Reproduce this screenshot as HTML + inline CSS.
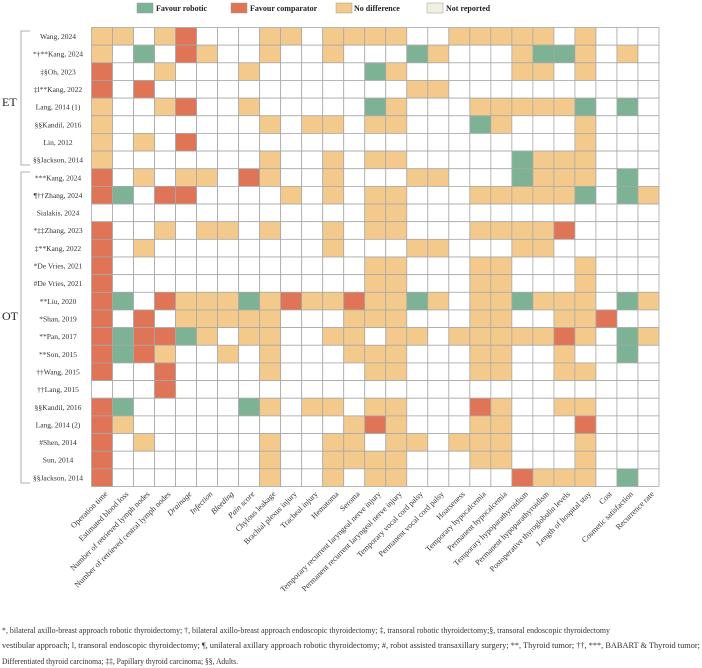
<!DOCTYPE html>
<html><head><meta charset="utf-8"><style>
html,body{margin:0;padding:0;background:#fff;width:702px;height:668px;overflow:hidden}
svg{display:block;font-family:"Liberation Serif",serif}
</style></head><body>
<svg id="chart" width="702" height="668" viewBox="0 0 702 668">
<g font-size="8" font-weight="bold" fill="#222">
<rect x="137" y="3" width="16" height="10" fill="#7db394" stroke="#999" stroke-width="0.5"/>
<text x="156" y="11">Favour robotic</text>
<rect x="231" y="3" width="16" height="10" fill="#df7456" stroke="#999" stroke-width="0.5"/>
<text x="250" y="11">Favour comparator</text>
<rect x="336" y="3" width="16" height="10" fill="#f4ca8c" stroke="#999" stroke-width="0.5"/>
<text x="354" y="11">No difference</text>
<rect x="427" y="3" width="16" height="10" fill="#f1efe0" stroke="#999" stroke-width="0.5"/>
<text x="446" y="11">Not reported</text>
</g>
<g id="cells"></g>
<g id="rowlabels" font-size="7.5" fill="#333" text-anchor="middle"></g>
<g id="collabels" font-size="8" fill="#333" text-anchor="end"></g>
<g stroke="#999" stroke-width="0.8" fill="none">
<path d="M30 31 H21 V165 H30"/>
<path d="M30 172 H21 V483 H30"/>
</g>
<text x="2" y="106" font-size="12" fill="#222">ET</text>
<text x="2" y="320" font-size="12" fill="#222">OT</text>
<g font-size="8" fill="#333">
<text x="2" y="633" textLength="608" lengthAdjust="spacingAndGlyphs">*, bilateral axillo-breast approach robotic thyroidectomy; †, bilateral axillo-breast approach endoscopic thyroidectomy; ‡, transoral robotic thyroidectomy;§, transoral endoscopic thyroidectomy</text>
<text x="2" y="648" textLength="698" lengthAdjust="spacingAndGlyphs">vestibular approach; l, transoral endoscopic thyroidectomy; ¶, unilateral axillary approach robotic thyroidectomy; #, robot assisted transaxillary surgery; **, Thyroid tumor; ††, ***, BABART &amp; Thyroid tumor;</text>
<text x="2" y="664" textLength="236" lengthAdjust="spacingAndGlyphs">Differentiated thyroid carcinoma; ‡‡, Papillary thyroid carcinoma; §§, Adults.</text>
</g>
</svg>
<script>
const studies = ["Wang, 2024","*†**Kang, 2024","‡§Oh, 2023","‡l**Kang, 2022","Lang, 2014 (1)","§§Kandil, 2016","Lin, 2012","§§Jackson, 2014",
"***Kang, 2024","¶††Zhang, 2024","Sialakis, 2024","*‡‡Zhang, 2023","‡**Kang, 2022","*De Vries, 2021","#De Vries, 2021","**Liu, 2020","*Shan, 2019","**Pan, 2017","**Son, 2015","††Wang, 2015","††Lang, 2015","§§Kandil, 2016","Lang, 2014 (2)","#Shen, 2014","Sun, 2014","§§Jackson, 2014"];
const outcomes = ["Operation time","Estimated blood loss","Number of retrieved lymph nodes","Number of retrieved central lymph nodes","Drainage","Infection","Bleeding","Pain score","Chylous  leakage","Brachial plexus injury","Tracheal injury","Hematoma","Seroma","Temporary recurrent laryngeal nerve injury","Permanent  recurrent laryngeal nerve  injury","Temporary vocal cord palsy","Permanent vocal cord palsy","Hoarseness","Temporary hypocalcemia","Permanent hypocalcemia","Temporary  hypoparathyroidism","Permanent  hypoparathyroidism","Postoperative thyroglobulin levels","Length of hospital stay","Cost","Cosmetic satisfaction","Recurrence rate"];
// G = favour robotic, R = favour comparator, Y = no difference, W = blank
const results = [
"YYWYRWWWYYWYYYYWWYYYYYWYWWW",
"YWGWRYWWYWWYWWWGYWWWYGGYWYW",
"RWWYWWWYWWWWWGYWWWWWYYWYWWW",
"RWRWWWWWWWWWWWWYYWWWWWWWWWW",
"YWWYRWWYWWWWWGYWWWYYYYYGWGW",
"YWWWWWWWYWYYWYYWWWGYWWWYWWW",
"YWYWRWWWWWWWWWWWWWWWWWWYWWW",
"YWWWWWWWYWWYWYYWWWWWGYYYWWW",
"RWYWYYWRYWWYWWWYYWWWGYYYWGW",
"RGWRRWWWWYWYWYYWWWYYYYYGWGY",
"WWWWWWWWWWWWWYYWWWWWWWWWWWW",
"RWWYWYYWYWWYWYYWWWYYYYRWWWW",
"RWYWWWWWWWWYWWWYYWWWYYWWWWW",
"RWWWWWWWWWWWWYYWWWYYWWWYWWW",
"RWWWWWWWWWWWWYYWWWYYWWWYWWW",
"RGWRYYYGYRYYRYYGYWYYGYYYWGY",
"RWRWYYYYYWWWYYYWWWYYWWYYRWW",
"RGRRGYWYYWWYYWYYWYYYYYRYWGY",
"RGRYWWYWYWWWYYYWWWYYWWYWWGW",
"RWWRWWWWYWWWWYYWWWYYWWYYWWW",
"WWWRWWWWWWWWWWWWWWWWWWWWWWW",
"RGWWWWWGYWYYWYYWWWRYWWYYWWW",
"RYWWWWWWWWWWYRYWWWYYWWWRWWW",
"RWYWWWWWYWWYYWYYWYYYWWWYWWW",
"RWWWWWWWYWWYYYYWWWYYWWWYWWW",
"RWWWWWWWYWWYWYYWWWWWRYYYWGW"];
const colors = {G:"#7db394",R:"#df7456",Y:"#f4ca8c",W:"#ffffff"};
const names = {G:"favour-robotic",R:"favour-comparator",Y:"no-difference",W:"not-reported"};
const NS="http://www.w3.org/2000/svg";
const x0=91.5, x1=659, y0=27.5, y1=486.5;
const cw=(x1-x0)/outcomes.length, rh=(y1-y0)/studies.length;
function xPos(i){return x0+i*cw;}
function yPos(j){return y0+j*rh;}
const cells=document.getElementById('cells');
studies.forEach((s,j)=>{
  const row=results[j];
  outcomes.forEach((o,i)=>{
    const k=row[i]||'W';
    const r=document.createElementNS(NS,'rect');
    r.setAttribute('x',xPos(i));r.setAttribute('y',yPos(j));
    r.setAttribute('width',cw);r.setAttribute('height',rh);
    r.setAttribute('fill',colors[k]);r.setAttribute('stroke','#a8a8a8');r.setAttribute('stroke-width','0.8');
    
    
    cells.appendChild(r);
  });
});
const rl=document.getElementById('rowlabels');
studies.forEach((s,j)=>{
  const t=document.createElementNS(NS,'text');
  t.setAttribute('x',58);t.setAttribute('y',yPos(j)+rh/2+2.7);
  t.textContent=s;
  
  
  rl.appendChild(t);
});
const cl=document.getElementById('collabels');
outcomes.forEach((o,i)=>{
  const t=document.createElementNS(NS,'text');
  const cx=xPos(i)+cw/2+6, cy=y1+8;
  t.setAttribute('x',cx);t.setAttribute('y',cy);
  t.setAttribute('transform','rotate(-45 '+cx+' '+cy+')');
  t.setAttribute('font-style', i>=4&&i<=7?'italic':'normal');
  t.textContent=o;
  
  
  cl.appendChild(t);
});
</script>
</body></html>
